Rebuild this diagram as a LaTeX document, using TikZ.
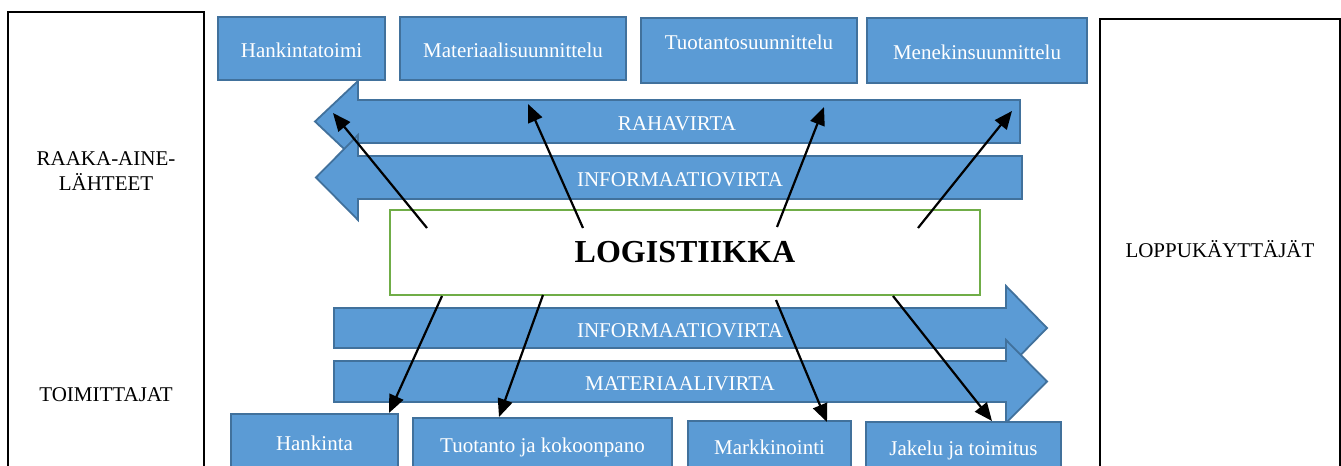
\documentclass[tikz,border=0pt]{standalone}
\usepackage{fontspec}
\setmainfont{Liberation Serif}
\usetikzlibrary{arrows.meta}

\definecolor{boxblue}{HTML}{5B9BD5}
\definecolor{boxedge}{HTML}{41719C}
\definecolor{logigreen}{HTML}{70AD47}

\tikzset{
	bluebox/.style = {draw=boxedge, fill=boxblue, line width=0.9pt, text=white,
		font=\fontsize{10.5}{12}\selectfont, inner sep=0pt},
	flow/.style = {draw=boxedge, fill=boxblue, line width=0.9pt},
	flowtext/.style = {text=white, font=\fontsize{10.5}{12}\selectfont},
	sidebox/.style = {draw=black, line width=1pt, inner sep=0pt},
	sidetext/.style = {font=\fontsize{10.5}{12.5}\selectfont, align=center},
	link/.style = {line width=1.1pt, -{Triangle[length=9pt,width=7.5pt]}}
}

\begin{document}
\begin{tikzpicture}[x=0.5pt, y=-0.5pt]
	\clip (0,0) rectangle (1341,466);
	\fill[white] (0,0) rectangle (1341,466);

	% sides
	\node[sidebox, minimum width=98pt, minimum height=234pt] (lahteet) at (106,246) {};
	\node[sidetext] (raaka) at (106,171) {RAAKA-AINE-\\LÄHTEET};
	\node[sidetext] (toimittajat) at (106,395) {TOIMITTAJAT};
	\node[sidebox, sidetext, minimum width=120pt, minimum height=230.5pt] (loppu) at (1220,249.5) {LOPPUKÄYTTÄJÄT};

	% top boxes
	\node[bluebox, minimum width=83.5pt, minimum height=31.5pt,
		label={[flowtext, yshift=-1pt]center:Hankintatoimi}] (hankintatoimi) at (301.5,48.5) {};
	\node[bluebox, minimum width=113pt, minimum height=31.5pt,
		label={[flowtext, yshift=-1pt]center:Materiaalisuunnittelu}] (materiaali) at (513,48.5) {};
	\node[bluebox, minimum width=108pt, minimum height=32.5pt,
		label={[flowtext, yshift=4pt]center:Tuotantosuunnittelu}] (tuotantos) at (749,50.5) {};
	\node[bluebox, minimum width=110pt, minimum height=32.5pt,
		label={[flowtext, yshift=-1pt]center:Menekinsuunnittelu}] (menekki) at (977,50.5) {};

	% flows to the left
	\draw[flow] (1020,100) -- (358,100) -- (358,81) -- (315,121.5) -- (358,162) -- (358,143) -- (1020,143) -- cycle;
	\node[flowtext] (raha) at (677,124) {RAHAVIRTA};
	\draw[flow] (1022,156) -- (358,156) -- (358,135) -- (316,177.5) -- (358,220) -- (358,199) -- (1022,199) -- cycle;
	\node[flowtext] (infoyla) at (680,180) {INFORMAATIOVIRTA};

	% logistiikka
	\node[draw=logigreen, fill=white, line width=1pt, minimum width=295pt, minimum height=42.5pt,
		font=\fontsize{16}{18}\selectfont\bfseries] (logistiikka) at (685,252.5) {LOGISTIIKKA};

	% flows to the right
	\draw[flow] (334,308) -- (1006,308) -- (1006,286) -- (1047,328) -- (1006,370) -- (1006,348) -- (334,348) -- cycle;
	\node[flowtext] (infoala) at (680,331) {INFORMAATIOVIRTA};
	\draw[flow] (334,361) -- (1006,361) -- (1006,340) -- (1047,381.5) -- (1006,423) -- (1006,402) -- (334,402) -- cycle;
	\node[flowtext] (materiaalivirta) at (680,384) {MATERIAALIVIRTA};

	% bottom boxes
	\node[bluebox, minimum width=83.5pt, minimum height=29pt] (hankinta) at (314.5,443) {Hankinta};
	\node[bluebox, minimum width=129.5pt, minimum height=29pt] (tuotanto) at (542.5,447) {Tuotanto ja kokoonpano};
	\node[bluebox, minimum width=81.5pt, minimum height=26pt] (markkinointi) at (769.5,447) {Markkinointi};
	\node[bluebox, minimum width=97.5pt, minimum height=28pt] (jakelu) at (963.5,450) {Jakelu ja toimitus};

	% arrows
	\coordinate (l1) at (427,228);
	\coordinate (l2) at (583,228);
	\coordinate (l3) at (777,227);
	\coordinate (l4) at (918,228);
	\coordinate (l5) at (442,296);
	\coordinate (l6) at (543,295);
	\coordinate (l7) at (776,300);
	\coordinate (l8) at (893,296);
	\coordinate (t1) at (333,113);
	\coordinate (t2) at (528,104);
	\coordinate (t3) at (824,107);
	\coordinate (t4) at (1012,111);
	\coordinate (b1) at (389,413);
	\coordinate (b2) at (499,417);
	\coordinate (b3) at (827,422);
	\coordinate (b4) at (992,421);
	\foreach \i in {1,...,4}
		\draw[link] (l\i) -- (t\i);
	\draw[link] (l5) -- (b1);
	\draw[link] (l6) -- (b2);
	\draw[link] (l7) -- (b3);
	\draw[link] (l8) -- (b4);
\end{tikzpicture}
\end{document}
